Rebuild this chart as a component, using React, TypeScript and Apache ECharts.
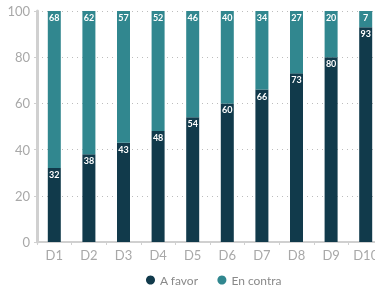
import React, { useEffect, useRef } from "react";
import * as echarts from "echarts";

const categories = ["D1", "D2", "D3", "D4", "D5", "D6", "D7", "D8", "D9", "D10"];
const aFavor = [32, 38, 43, 48, 54, 60, 66, 73, 80, 93];
const enContra = [68, 62, 57, 52, 46, 40, 34, 27, 20, 7];
const yTicks = [0, 20, 40, 60, 80, 100];

export default function App() {
  const ref = useRef<HTMLDivElement>(null);
  useEffect(() => {
    if (!ref.current) return;
    const chart = echarts.init(ref.current, undefined, { renderer: "svg" });
    const label = {
      show: true,
      position: "insideTop" as const,
      distance: 2,
      color: "#ffffff",
      fontSize: 9,
      fontWeight: "bold" as const,
      fontFamily: "Lato",
    };
    chart.setOption({
      animation: false,
      grid: { left: 37, width: 346, top: 11, bottom: 48, outerBoundsMode: "none", containLabel: false },
      legend: {
        bottom: -1,
        left: 141,
        icon: "circle",
        itemWidth: 9,
        itemHeight: 9,
        itemGap: 19,
        textStyle: { color: "#8a8a8a", fontSize: 12, fontFamily: "Lato" },
        data: ["A favor", "En contra"],
      },
      xAxis: {
        type: "category",
        data: categories,
        axisLine: { lineStyle: { color: "#d0d0d0", width: 2 } },
        axisTick: { show: true, length: 3, lineStyle: { color: "#d0d0d0" } },
        axisLabel: { color: "#a8a8a8", fontSize: 13, fontFamily: "Lato", margin: 6 },
      },
      yAxis: {
        type: "value",
        min: yTicks[0],
        max: yTicks[yTicks.length - 1],
        interval: 20,
        axisLine: { show: true, lineStyle: { color: "#d0d0d0", width: 3 } },
        axisTick: { show: true, length: 3, lineStyle: { color: "#d0d0d0" } },
        axisLabel: { color: "#a8a8a8", fontSize: 13, fontFamily: "Lato", margin: 7 },
        splitLine: { lineStyle: { color: "#bdbdbd", type: [1, 4] } },
      },
      series: [
        {
          name: "A favor",
          type: "bar",
          stack: "total",
          data: aFavor,
          barWidth: 13,
          itemStyle: { color: "#113a4b" },
          label,
        },
        {
          name: "En contra",
          type: "bar",
          stack: "total",
          data: enContra,
          barWidth: 13,
          itemStyle: { color: "#31878f" },
          label,
        },
      ],
    });
    return () => chart.dispose();
  }, []);
  return <div ref={ref} style={{ width: 375, height: 290, position: "fixed", left: 0, top: 0 }} />;
}
